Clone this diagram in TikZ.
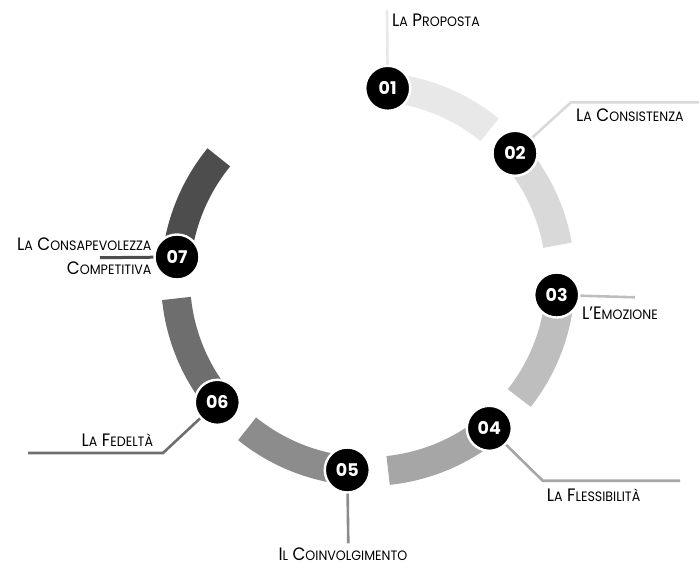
\documentclass[tikz,border=0pt]{standalone}
\usepackage{fontspec}
\setmainfont{Poppins}
\newfontfamily\lblfont{Poppins}[FakeStretch=0.93]
\usetikzlibrary{calc}

% small-caps imitation: capitals typed by hand, set smaller
\newcommand\smc[1]{{\fontsize{13.6}{14}\selectfont #1}}

\definecolor{bandA}{HTML}{E8E8E8}
\definecolor{bandB}{HTML}{D9D9D9}
\definecolor{bandC}{HTML}{BEBEBE}
\definecolor{bandD}{HTML}{A6A6A6}
\definecolor{bandE}{HTML}{8C8C8C}
\definecolor{bandF}{HTML}{6E6E6E}
\definecolor{bandG}{HTML}{4D4D4D}

\tikzset{
  disc/.style={circle, fill=black, draw=white, line width=2.4pt,
    minimum size=45pt, inner sep=0pt, text=white,
    font=\fontsize{17.5}{18}\selectfont\bfseries},
  lbl/.style={inner sep=0pt, text=black, text depth=0pt,
    font=\lblfont\fontsize{18}{18}\selectfont},
  conn/.style={line width=2.6pt},
  ringband/.style={line width=29pt},
}

\begin{document}
\begin{tikzpicture}[x=1pt,y=1pt]
\useasboundingbox (0,0) rectangle (699,-565);
\coordinate (ctr) at (368,-279);

% ring segments, each running clockwise from its disc
\foreach \a/\d/\c in {85.8/-35/bandA, 42.1/-32/bandB, -3.2/-35/bandC,
                      -49/-35/bandD, -93.9/-35/bandE, -138.2/-36/bandF,
                      175.8/-35/bandG}{
  \draw[ringband, \c] ($(ctr)+(\a:192.5)$)
     arc[start angle=\a, delta angle=\d, radius=192.5];
}

% numbered discs
\node[disc] (d1) at (387.7,-88.3) {01};
\node[disc] (d2) at (515,-153.3) {02};
\node[disc] (d3) at (556.7,-295) {03};
\node[disc] (d4) at (489.3,-428.3) {04};
\node[disc] (d5) at (347.3,-470) {05};
\node[disc] (d6) at (217.3,-402.3) {06};
\node[disc] (d7) at (177,-257) {07};

% leader ends
\coordinate (e1) at (387,-10);
\coordinate (k2) at (571,-102.3);
\coordinate (e2) at (699,-102.3);
\coordinate (e3) at (635,-297.3);
\coordinate (k4) at (542.7,-480.7);
\coordinate (e4) at (680,-480.7);
\coordinate (e5) at (348.3,-543.3);
\coordinate (k6) at (163,-453);
\coordinate (e6) at (28,-453);
\coordinate (e7) at (100,-257.7);

\draw[conn, bandA] (d1) -- (e1);
\draw[conn, bandB] (d2) -- (k2) -- (e2);
\draw[conn, bandC] (d3) -- (e3);
\draw[conn, bandD] (d4) -- (k4) -- (e4);
\draw[conn, bandE] (d5) -- (e5);
\draw[conn, bandF] (d6) -- (k6) -- (e6);
\draw[conn, bandG, line width=3pt] (d7) -- (e7);

% labels
\node[lbl, anchor=base west] (t1) at (392,-26) {L\smc{A} P\smc{ROPOSTA}};
\node[lbl, anchor=base west] (t2) at (576,-121) {L\smc{A} C\smc{ONSISTENZA}};
\node[lbl, anchor=base west] (t3) at (582,-319) {L’E\smc{MOZIONE}};
\node[lbl, anchor=base west] (t4) at (546.7,-501.7) {L\smc{A} F\smc{LESSIBILITÀ}};
\node[lbl, anchor=base west] (t5) at (278.3,-560) {I\smc{L} C\smc{OINVOLGIMENTO}};
\node[lbl, anchor=base east] (t6) at (153.3,-446) {L\smc{A} F\smc{EDELTÀ}};
\node[lbl, anchor=base east] (t7a) at (151.7,-250) {L\smc{A} C\smc{ONSAPEVOLEZZA}};
\node[lbl, anchor=base east] (t7b) at (151.7,-274) {C\smc{OMPETITIVA}};
\end{tikzpicture}
\end{document}
